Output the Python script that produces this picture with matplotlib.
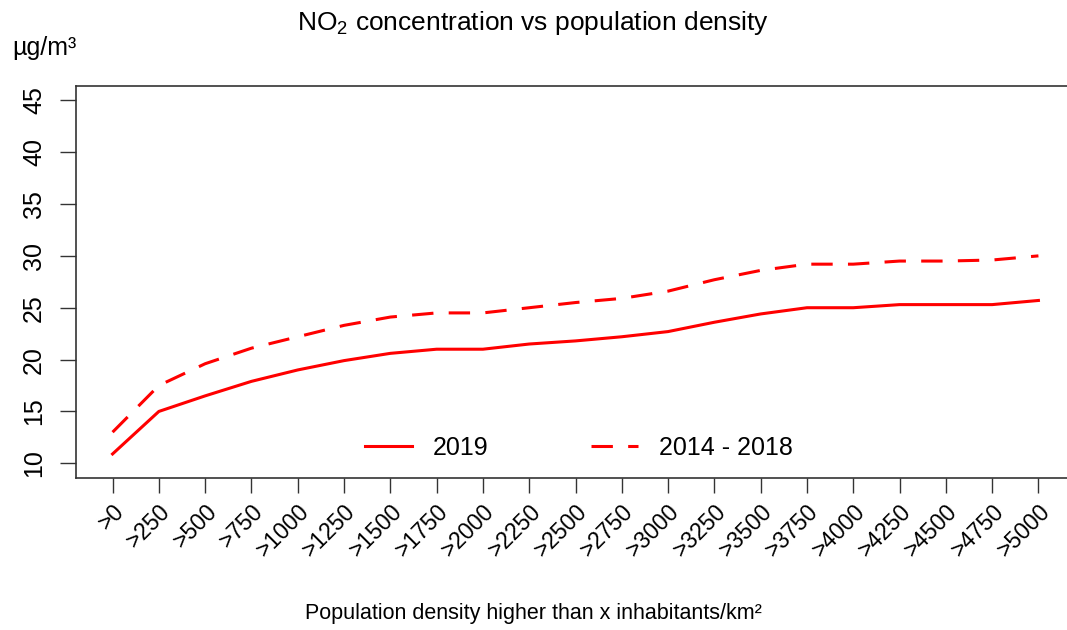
#-----------------------------------------------------------------------------#
# NO2 concentration vs population density
#-----------------------------------------------------------------------------#

import numpy as np
import matplotlib
matplotlib.use('Agg')
import matplotlib.pyplot as plt

plt.rcParams['font.family'] = ['Liberation Sans', 'DejaVu Sans']
plt.rcParams['mathtext.fontset'] = 'custom'
plt.rcParams['mathtext.rm'] = 'Liberation Sans'
plt.rcParams['mathtext.it'] = 'Liberation Sans:italic'

#----------- Data -----------#
density_labels = ['>0', '>250', '>500', '>750', '>1000', '>1250', '>1500',
                  '>1750', '>2000', '>2250', '>2500', '>2750', '>3000',
                  '>3250', '>3500', '>3750', '>4000', '>4250', '>4500',
                  '>4750', '>5000']
no2_2019 = [10.9, 15.0, 16.5, 17.9, 19.0, 19.9, 20.6, 21.0, 21.0, 21.5, 21.8,
            22.2, 22.7, 23.6, 24.4, 25.0, 25.0, 25.3, 25.3, 25.3, 25.7]
no2_2014_2018 = [13.0, 17.5, 19.6, 21.1, 22.2, 23.3, 24.1, 24.5, 24.5, 25.0,
                 25.5, 25.9, 26.6, 27.7, 28.6, 29.2, 29.2, 29.5, 29.5, 29.6,
                 30.0]
yticks = [10, 15, 20, 25, 30, 35, 40, 45]

#-----------     Plot     -----------#
W, H = 1067, 630
fig = plt.figure(figsize=(W/100, H/100), dpi=100)
ax = fig.add_axes([76/W, 1-477.7/H, (1075-76)/W, (477.7-86)/H])

x = np.arange(len(density_labels))
ax.plot(x, no2_2019, color='red', lw=2.2, label='2019')
ax.plot(x, no2_2014_2018, color='red', lw=2.2, dashes=(7, 5),
        label='2014 - 2018')

ax.set_xlim(-0.79, len(x) - 1 + 0.79)
ax.set_ylim(8.61, 46.38)

ax.set_xticks(x)
ax.set_xticklabels(density_labels, rotation=45, ha='right', va='top',
                   rotation_mode='anchor', fontsize=16.5)
ax.set_yticks(yticks)
ax.set_yticklabels([str(v) for v in yticks], rotation=90, va='center',
                   fontsize=18)
ax.tick_params(axis='x', length=11, width=1, color='#333333', pad=5)
ax.tick_params(axis='y', length=11.5, width=1, color='#333333', pad=10)
for s in ax.spines.values():
    s.set_color('#333333')
    s.set_linewidth(1.2)

fig.text(0.5, 1-23/H, 'NO$_2$ concentration vs population density',
         ha='center', va='center', fontsize=19)
fig.text(12/W, 1-48/H, 'µg/m³', ha='left', va='center', fontsize=18)
fig.text(0.5, 1-614/H, 'Population density higher than x inhabitants/km²',
         ha='center', va='center', fontsize=15.5)

ax.legend(ncol=2, frameon=False, fontsize=18, loc='center left',
          bbox_to_anchor=(365/W, 1-447.7/H), bbox_transform=fig.transFigure,
          borderpad=0, borderaxespad=0, handlelength=1.88,
          handletextpad=0.84, columnspacing=4.1)

plt.savefig('out.png', dpi=100)
